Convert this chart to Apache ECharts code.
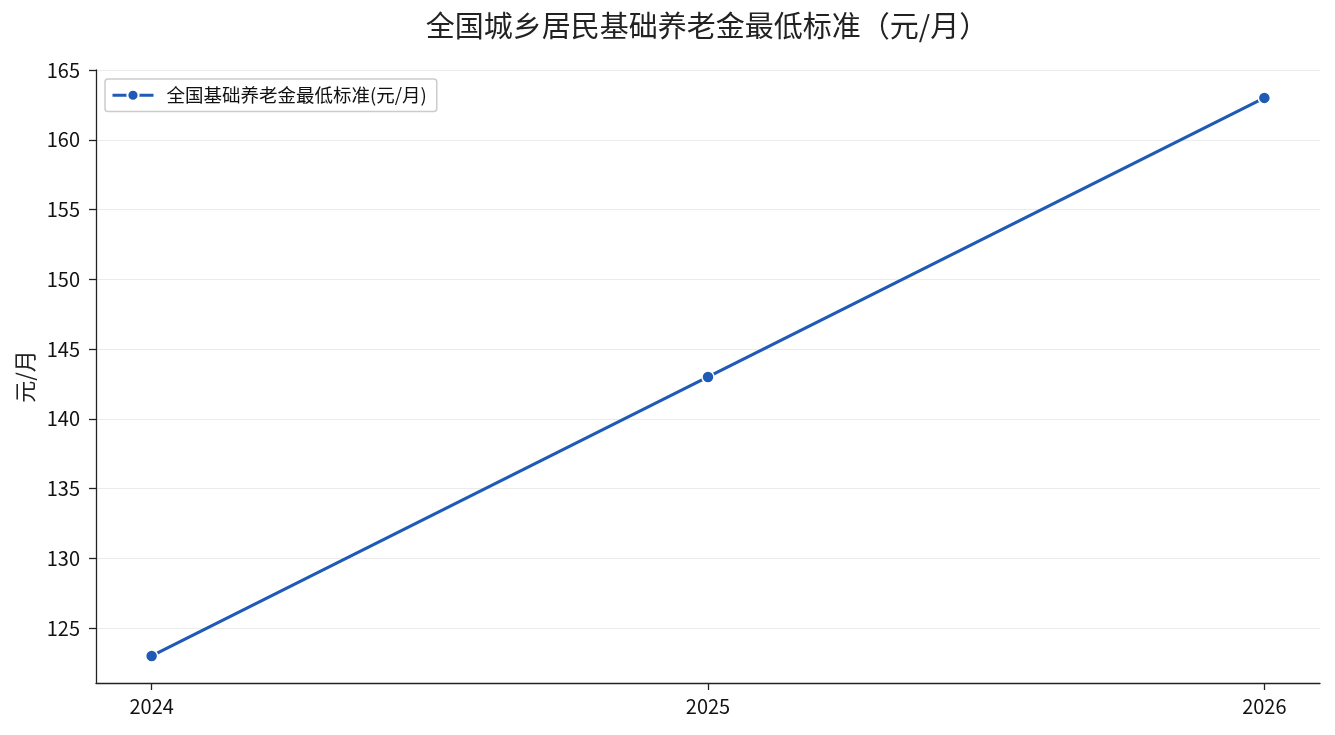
<!DOCTYPE html>
<html><head><meta charset="utf-8">
<script src="https://cdn.jsdelivr.net/npm/echarts@6/dist/echarts.min.js"></script>
<style>html,body{margin:0;padding:0;background:#fff}#c{width:1335px;height:735px}</style>
</head><body><div id="c"></div>
<script>
const years = [2024, 2025, 2026];
const values = [123, 143, 163];
const yTicks = [125, 130, 135, 140, 145, 150, 155, 160, 165];
const seriesName = '全国基础养老金最低标准(元/月)';
const titleText = '全国城乡居民基础养老金最低标准（元/月）';
const yName = '元/月';

const FONT = '"Noto Sans CJK SC", "Noto Sans", sans-serif';
const chart = echarts.init(document.getElementById('c'));
chart.setOption({
  backgroundColor: '#fff',
  animation: false,
  textStyle: { fontFamily: FONT },
  title: {
    text: titleText, left: 702, top: 6, textAlign: 'center',
    textStyle: { fontSize: 29, fontWeight: 'normal', color: '#222', fontFamily: FONT }
  },
  legend: {
    left: 105, top: 79, padding: [7, 10, 7, 6],
    borderColor: '#cccccc', borderWidth: 1.5, borderRadius: 3,
    itemWidth: 41, itemHeight: 14, itemGap: 10,
    lineStyle: { width: 3 },
    textStyle: { fontSize: 18.5, color: '#111', fontFamily: FONT, padding: [0, 0, 0, 8] },
    data: [seriesName]
  },
  grid: { left: 96, right: 15, top: 70, bottom: 52, containLabel: false },
  xAxis: {
    type: 'value', min: 2023.9, max: 2026.1,
    axisLine: { show: true, lineStyle: { color: '#222', width: 1.3 } },
    axisTick: { show: true, customValues: years, length: 7, lineStyle: { color: '#222', width: 1.3 } },
    axisLabel: { customValues: years, fontSize: 20, color: '#111', margin: 13, formatter: v => String(Math.round(v)) },
    splitLine: { show: false }
  },
  yAxis: {
    type: 'value', min: 121.06, max: 165,
    name: yName, nameLocation: 'middle', nameGap: 60, nameRotate: 90,
    nameTextStyle: { fontSize: 22, color: '#222', fontFamily: FONT },
    axisLine: { show: true, lineStyle: { color: '#222', width: 1.3 } },
    axisTick: { show: true, customValues: yTicks, length: 7, lineStyle: { color: '#222', width: 1.3 } },
    axisLabel: { customValues: yTicks, fontSize: 20, color: '#111', margin: 16 },
    splitLine: { show: true, lineStyle: { color: '#ebebeb', width: 1 } }
  },
  series: [{
    name: seriesName, type: 'line',
    data: years.map((y, i) => [y, values[i]]),
    symbol: 'circle', symbolSize: 12,
    lineStyle: { color: '#1f5bb5', width: 3.2 },
    itemStyle: { color: '#1f5bb5', borderColor: '#fff', borderWidth: 1.5 }
  }]
});
</script></body></html>
